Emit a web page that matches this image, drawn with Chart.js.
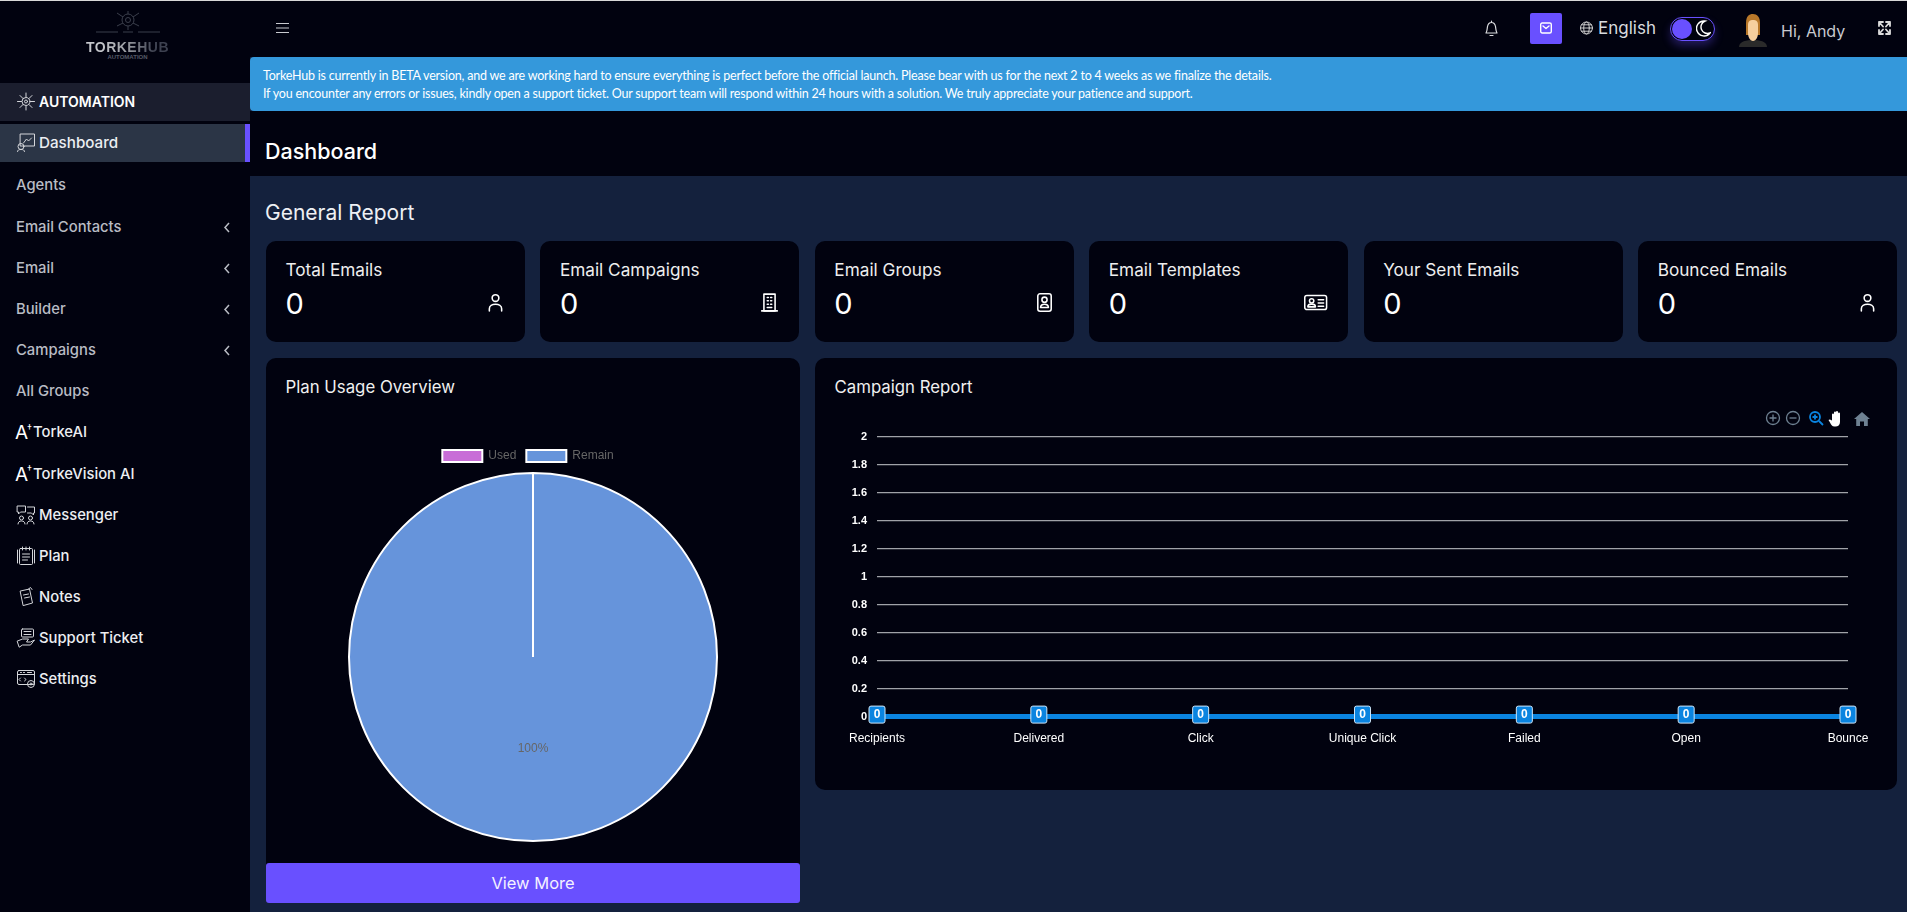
<!DOCTYPE html>
<html lang="en">
<head>
<meta charset="utf-8">
<title>TorkeHub Dashboard</title>
<script src="https://cdn.jsdelivr.net/npm/chart.js@4"></script>
<style>
  * { box-sizing: border-box; }
  html, body { margin: 0; width: 1907px; height: 912px; overflow: hidden; background: #14213d; color: #fff; font-family: Inter, "Noto Sans", sans-serif; }
  .abs { position: absolute; }
  #topline { left: 0; top: 0; width: 1907px; height: 1px; background: #d8d8d8; z-index: 5; }
  #sidebar { left: 0; top: 0; width: 250px; height: 912px; background: #01020f; }
  #header { left: 250px; top: 0; width: 1657px; height: 57px; background: #01020f; }
  #banner { left: 250px; top: 57px; width: 1657px; height: 54px; background: #3498db; border-radius: 4px 0 0 4px; padding: 10px 13px; font: 12.5px/18px Lato, "Open Sans", sans-serif; letter-spacing: -.2px; color: #fff; }
  #titlebar { left: 250px; top: 111px; width: 1657px; height: 65px; background: #01020f; }
  #titlebar div { position: absolute; left: 15px; top: 26px; font-size: 21.500px; line-height: 28px; font-weight: 500; }
  #genReport { left: 265px; top: 198px; font-size: 21px; line-height: 30px; font-weight: 400; color: #eef0f4; }
  #stats { left: 266px; top: 241px; width: 1631px; height: 101px; display: grid; grid-template-columns: repeat(6, 1fr); column-gap: 15.6px; }
  .stat { position: relative; background: #01020f; border-radius: 10px; }
  .stat .t { position: absolute; left: 19.5px; top: 18px; font-size: 17.200px; line-height: 22px; color: #eee; }
  .stat .v { position: absolute; left: 19.5px; top: 45px; font-size: 29px; line-height: 36px; }
  .stat svg { position: absolute; right: 20px; top: 52px; }
  .panel { background: #01020f; border-radius: 10px; }
  .panel h3 { position: absolute; left: 19.5px; top: 18px; margin: 0; font-size: 16.800px; line-height: 22px; font-weight: 400; color: #f0f0f0; }
  #planCard { left: 266px; top: 358px; width: 534px; height: 510px; border-radius: 10px 10px 0 0; }
  #campCard { left: 815px; top: 358px; width: 1082px; height: 432px; }
  #viewMore { left: 266px; top: 863px; width: 534px; height: 40px; background: #6950ff; border-radius: 3px; text-align: center; font-size: 16.5px; line-height: 40px; color: #f3f1ff; }
  #planWrap { left: 266px; top: 440px; width: 534px; height: 402px; }
  #campWrap { left: 815px; top: 420px; width: 1082px; height: 360px; }
  .side { position: absolute; left: 0; width: 250px; height: 41px; font-size: 14.8px; line-height: 41px; font-weight: 500; color: #b9bcc4; }
  .side span { position: absolute; left: 16px; }
  .side.icon span { left: 39px; color: #eceef2; }
  .side.ai span { left: 33px; color: #eceef2; }
  .side svg { position: absolute; left: 16px; top: 10px; }
  .side .chev { position: absolute; left: 223px; top: 15px; }
  #logo { left: 60px; top: 10px; width: 135px; text-align: center; }
  #logoT { position: absolute; left: 0; top: 27px; width: 135px; font: 700 14px/20px "Liberation Sans", sans-serif; letter-spacing: .5px; background: linear-gradient(90deg, #c5c7cc 30%, #9a9ca2 50%, #3d4150 70%); -webkit-background-clip: text; background-clip: text; color: transparent; }
  #logoS { position: absolute; left: 0; top: 43px; width: 135px; font: 700 6px/9px "Liberation Sans", sans-serif; color: #555a66; }
  svg.line { fill: none; stroke: #fff; stroke-width: 1.4; stroke-linecap: round; stroke-linejoin: round; }
  .side svg.line { stroke: #d4d6da; stroke-width: 1; }
</style>
</head>
<body>
<div class="abs" id="topline"></div>
<div class="abs" id="sidebar"></div>
<div class="abs" id="header"></div>
<div class="abs" id="banner"></div>
<div class="abs" id="titlebar"><div>Dashboard</div></div>
<div class="abs" id="genReport">General Report</div>
<div class="abs" id="stats"></div>
<div class="abs panel" id="planCard"><h3>Plan Usage Overview</h3></div>
<div class="abs panel" id="campCard"><h3>Campaign Report</h3></div>
<div class="abs" id="planWrap"><canvas id="planChart"></canvas></div>
<div class="abs" id="campWrap"><canvas id="campChart"></canvas></div>
<div class="abs" id="viewMore">View More</div>

<!-- top bar -->
<svg class="abs line" style="left:276px;top:22px;stroke:#c8cad0;stroke-width:1.200" width="13" height="12" viewBox="0 0 13 12"><path d="M0 1.5h13M0 6h13M0 10.500h13"/></svg>
<svg class="abs line" style="left:1484px;top:20px;stroke:#dcdde0;stroke-width:1.200" width="15" height="17" viewBox="0 0 15 17"><path d="M2 13c1.300-2 1-4 1.500-6.500S5.500 2.500 7.500 2.500s3.500 1.500 4 4 .2 4.500 1.500 6.500zM6 15.500h3M7.500 1v1.500"/></svg>
<div class="abs" style="left:1530px;top:13px;width:32px;height:31px;background:#6950ff;border-radius:2px"></div>
<svg class="abs line" style="left:1540px;top:22px" width="12" height="12" viewBox="0 0 12 12"><rect x=".7" y="1" width="10.600" height="10" rx="1.500"/><path d="M3 4l3 2.500L9 4"/></svg>
<svg class="abs line" style="left:1580px;top:21px;stroke:#ccc;stroke-width:1" width="13" height="14" viewBox="0 0 13 14"><circle cx="6.500" cy="7" r="6"/><ellipse cx="6.500" cy="7" rx="2.800" ry="6"/><path d="M.5 7h12M1.500 3.800h10M1.500 10.200h10"/></svg>
<div class="abs" style="left:1598px;top:16px;font-size:17px;line-height:24px;color:#d8dade">English</div>
<div class="abs" style="left:1670px;top:17px;width:45px;height:24px;border-radius:12px;border:1.500px solid #6950ff;box-shadow:0 5px 9px rgba(105,80,255,.3);background:#01020f"></div>
<div class="abs" style="left:1672px;top:19px;width:20px;height:20px;border-radius:50%;background:#6950ff"></div>
<svg class="abs" style="left:1696px;top:20px" width="15" height="17" viewBox="0 0 15 17"><path d="M9 1a7.500 7.500 0 1 0 5 12A6.500 6.500 0 0 1 9 1z" fill="none" stroke="#fff" stroke-width="1.400"/></svg>
<svg class="abs" style="left:1735px;top:13px" width="36" height="34" viewBox="0 0 36 34"><path d="M4 34c0-6 8-7 14-7s14 1 14 7z" fill="#2a2a2a"/><path d="M11 10C11 3 14 1 18 1s7 3 7 9v12h-14z" fill="#b8782a"/><path d="M13 12c0-4 2-5 5-5s5 1 5 5v8c0 4-2 8-5 8s-5-4-5-8z" fill="#f6cf9e"/></svg>
<div class="abs" style="left:1781px;top:19px;font-size:16px;line-height:24px;color:#c8cad0">Hi, Andy</div>
<svg class="abs line" style="left:1878px;top:21px;stroke:#dcdcdc;stroke-width:1.800" width="13" height="14" viewBox="0 0 13 14"><path d="M1 1l4 4.500M12 1L8 5.500M1 13l4-4.500M12 13L8 8.500M1 5V1h4M8 1h4v4M1 9v4h4M8 13h4V9"/></svg>

<!-- apex style toolbar -->
<svg class="abs" style="left:1765px;top:410px" width="108" height="18" viewBox="0 0 108 18" fill="none">
  <g stroke="#6e8192" stroke-width="1.300"><circle cx="8" cy="8" r="6.500"/><path d="M8 4.500v7M4.500 8h7"/><circle cx="28" cy="8" r="6.500"/><path d="M24.500 8h7"/></g>
  <g stroke="#0a84e0" stroke-width="1.800"><circle cx="50" cy="7" r="5"/><path d="M50 4.500v5M47.500 7h5M54 11l4 4"/></g>
  <path d="M67 10V4.500a1 1 0 0 1 2 0V8V2.500a1 1 0 0 1 2 0V8V2a1 1 0 0 1 2 0v6V3.500a1 1 0 0 1 2 0V12c0 3-2 4.500-4.500 4.500h-1c-2.500 0-3.500-2-4.500-4l-1.500-2.500c1-1 2-.5 3 .5z" fill="#fff"/>
  <path d="M97 2l8 7h-2.200v7h-3.800v-4.500h-4V16h-3.800V9H89z" fill="#6e8192"/>
</svg>

<!-- logo -->
<div class="abs" id="logo">
  <svg width="66" height="26" viewBox="0 0 66 26" fill="none" stroke="#3b3f4c" stroke-width="1"><circle cx="33" cy="10" r="6"/><circle cx="33" cy="10" r="2.500"/><path d="M33 1v3M33 16v4M22 3l6 4M44 3l-6 4M22 16l6-3M44 16l-6-3M1 22h22M28 22h10M43 22h22"/></svg>
  <div id="logoT">TORKEHUB</div>
  <div id="logoS">AUTOMATION</div>
</div>

<script>
// chart values
const planLabels = ["Used", "Remain"];
const planValues = [0, 100];
const planColors = ["#c86dd7", "#6694db"];

const campaignCategories = ["Recipients", "Delivered", "Click", "Unique Click", "Failed", "Open", "Bounce"];
const campaignValues = [0, 0, 0, 0, 0, 0, 0];
const campaignTicks = [0, 0.2, 0.4, 0.6, 0.8, 1, 1.2, 1.4, 1.6, 1.8, 2];

// page text
const bannerLines = [
  "TorkeHub is currently in BETA version, and we are working hard to ensure everything is perfect before the official launch. Please bear with us for the next 2 to 4 weeks as we finalize the details.",
  "If you encounter any errors or issues, kindly open a support ticket. Our support team will respond within 24 hours with a solution. We truly appreciate your patience and support.",
];
const statTitles = ["Total Emails", "Email Campaigns", "Email Groups", "Email Templates", "Your Sent Emails", "Bounced Emails"];
const statValues = [0, 0, 0, 0, 0, 0];
const statIcons = ["person", "building", "badge", "idcard", "", "person"];
const menuLabels = ["Agents", "Email Contacts", "Email", "Builder", "Campaigns", "All Groups", "TorkeAI", "TorkeVision AI", "Messenger", "Plan", "Notes", "Support Ticket", "Settings"];
const menuKinds = ["", "sub", "sub", "sub", "sub", "", "ai", "ai", "icon", "icon", "icon", "icon", "icon"];
const menuIcons = ["", "", "", "", "", "", "", "", "chat", "plan", "note", "ticket", "gear"];

const iconPaths = {
  person: '<circle cx="8.500" cy="4.500" r="3"/><path d="M3 16v-2c0-2.500 2.500-4 5.500-4s5.500 1.500 5.500 4v2"/>',
  building: '<rect x="3.500" y="1" width="10" height="15"/><path d="M1.500 16h14M6.500 4h1M9.500 4h1M6.500 7h1M9.500 7h1M6.500 10h1M9.500 10h1M6.500 13h4"/>',
  badge: '<rect x="2.500" y="0.700" width="12" height="15.600" rx="2"/><circle cx="8.500" cy="6" r="2.300"/><path d="M5 13c0-2 1.500-3 3.500-3s3.500 1 3.500 3z"/>',
  idcard: '<rect x="0.700" y="2" width="20" height="13" rx="2"/><circle cx="7" cy="7" r="2"/><path d="M3.500 12.500c0-1.500 1.500-2.500 3.500-2.500s3.500 1 3.500 2.500zM13 6h5M13 9h5M13 12h5"/>',
  chip: '<circle cx="9.500" cy="9.500" r="4"/><circle cx="9.500" cy="9.500" r="1.500"/><path d="M9.500 1v4M9.500 14v4M1 9.500h4M14 9.500h4M3.500 3.500l3 3M15.500 3.500l-3 3M3.500 15.500l3-3M15.500 15.500l-3-3"/>',
  board: '<rect x="4" y="1" width="14" height="12"/><path d="M7 10l3-4 2 2 3-3"/><circle cx="4.500" cy="13.500" r="3"/><path d="M1 18.500c0-1.500 1.500-2 3.500-2s3.500 .5 3.500 2"/>',
  chat: '<path d="M1 1h8v6H4l-2 2v-2H1zM11 2h7v6h-1v2l-2-2h-4"/><circle cx="5" cy="13" r="2"/><circle cx="14" cy="13" r="2"/><path d="M1.500 19c0-2 1.500-3 3.500-3s3.500 1 3.500 3M10.500 19c0-2 1.500-3 3.500-3s3.500 1 3.500 3"/>',
  plan: '<rect x="3" y="2.500" width="13" height="16" rx="1"/><path d="M1 4v13M18 4v13M6 1v3M9.500 1v3M13 1v3M6 8h7M6 11h7M6 14h5"/>',
  note: '<path d="M4 4l9-2 3 14-9 2.500z"/><path d="M7 8l5-1M8 11l5-1M12 2l2-1.500 1.500 2"/>',
  ticket: '<rect x="5" y="1" width="12" height="8" rx="1"/><path d="M7.500 3.500h7M7.500 6.500h7M1 13l5-2h6l-2 3h4l4-2-4 5H6l-3 2z"/>',
  gear: '<rect x="1" y="1.500" width="17" height="14" rx="1.500"/><path d="M1 5.500h17M4 3.500h1M7 3.500h1M11 3.500h4M4 9l-1.500 1.500L4 12M8 9l1.500 1.500L8 12"/><circle cx="14.500" cy="15" r="3.500"/><circle cx="14.500" cy="15" r="1"/>',
};

const lineIcon = (name, size) => {
  const width = name === "idcard" ? 22 : 17;
  const height = name === "idcard" ? 17 : 17;
  const viewSize = size === 20 && name !== "idcard" ? "0 0 19 20" : `0 0 ${width} ${height}`;
  return `<svg class="line" width="${name === "idcard" ? 24 : size}" height="${size}" viewBox="${viewSize}">${iconPaths[name]}</svg>`;
};

document.getElementById("banner").innerHTML = bannerLines.join("<br>");

document.getElementById("stats").innerHTML = statTitles
  .map(
    (title, i) => `
    <div class="stat">
      <div class="t">${title}</div>
      <div class="v">${statValues[i]}</div>
      ${statIcons[i] ? lineIcon(statIcons[i], 19) : ""}
    </div>`
  )
  .join("");

const sidebarEl = document.getElementById("sidebar");
const addSideRow = (html) => sidebarEl.insertAdjacentHTML("beforeend", html);

addSideRow(`<div class="side icon" style="top:83px;height:38px;line-height:38px;background:#1b1e2e;color:#fff">${lineIcon("chip", 20).replace("<svg", '<svg style="top:9px"')}<span style="color:#fff;font-weight:600;font-size:14px">AUTOMATION</span></div>`);
addSideRow(`<div class="side icon" style="top:124px;height:38px;line-height:38px;background:#2b3546">${lineIcon("board", 20).replace("<svg", '<svg style="top:9px"')}<span style="font-size:15.200px">Dashboard</span><div style="position:absolute;right:0;top:0;width:5px;height:38px;background:#6950ff"></div></div>`);

menuLabels.forEach((label, i) => {
  const kind = menuKinds[i];
  const top = 165.4 + i * 41.17;
  const icon = kind === "icon" ? lineIcon(menuIcons[i], 20) : "";
  const mark = kind === "ai" ? '<span style="left:15px;font-size:19px;font-weight:400;color:#fff">A<sup style="font-size:10px;line-height:0;margin-left:-1px">†</sup></span>' : "";
  const chev = kind === "sub" ? '<svg class="chev" width="8" height="11" viewBox="0 0 8 11" fill="none" stroke="#b9bcc4" stroke-width="1.500"><path d="M6 1L2 5.500 6 10"/></svg>' : "";
  addSideRow(`<div class="side ${kind}" style="top:${top}px">${icon}${mark}<span>${label}</span>${chev}</div>`);
});

// draws the percent text at the middle of each visible slice
const percentLabels = {
  id: "percentLabels",
  afterDatasetsDraw(chart) {
    const { ctx } = chart;
    const dataset = chart.data.datasets[0];
    const total = dataset.data.reduce((sum, value) => sum + value, 0);
    chart.getDatasetMeta(0).data.forEach((arc, i) => {
      const value = dataset.data[i];
      if (!value) return;
      const pos = arc.tooltipPosition();
      ctx.save();
      ctx.font = "12px 'Liberation Sans', Arial, sans-serif";
      ctx.fillStyle = "#666";
      ctx.textAlign = "center";
      ctx.textBaseline = "middle";
      ctx.fillText(`${Math.round((value / total) * 100)}%`, pos.x, pos.y);
      ctx.restore();
    });
  },
};

// the legend sits a little left of the pie centre in the original
const nudgeLegend = {
  id: "nudgeLegend",
  afterLayout(chart) {
    chart.legend.left -= 5;
    chart.legend.right -= 5;
  },
};

// apex style value badges sitting on the points
const valueBadges = {
  id: "valueBadges",
  afterDatasetsDraw(chart) {
    const { ctx } = chart;
    const values = chart.data.datasets[0].data;
    chart.getDatasetMeta(0).data.forEach((point, i) => {
      ctx.save();
      ctx.beginPath();
      ctx.roundRect(point.x - 8, point.y - 10.5, 16, 17, 2);
      ctx.fillStyle = "#0a84e0";
      ctx.fill();
      ctx.strokeStyle = "#cfe6f8";
      ctx.lineWidth = 1;
      ctx.stroke();
      ctx.font = "bold 12px 'Liberation Sans', Arial, sans-serif";
      ctx.fillStyle = "#fff";
      ctx.textAlign = "center";
      ctx.textBaseline = "middle";
      ctx.fillText(values[i], point.x, point.y - 2);
      ctx.restore();
    });
  },
};

new Chart(document.getElementById("planChart"), {
  type: "pie",
  data: {
    labels: planLabels,
    datasets: [
      {
        data: planValues,
        backgroundColor: planColors,
        borderColor: "#ffffff",
        borderWidth: 2,
      },
    ],
  },
  options: {
    responsive: true,
    maintainAspectRatio: false,
    animation: false,
    plugins: {
      legend: {
        position: "top",
        labels: { color: "#666", font: { family: "'Liberation Sans', Arial, sans-serif", size: 12 } },
      },
      tooltip: { enabled: false },
    },
  },
  plugins: [percentLabels, nudgeLegend],
});

new Chart(document.getElementById("campChart"), {
  type: "line",
  data: {
    labels: campaignCategories,
    datasets: [
      {
        data: campaignValues,
        borderColor: "#0a84e0",
        borderWidth: 5,
        pointRadius: 0,
        clip: false,
        tension: 0,
      },
    ],
  },
  options: {
    responsive: true,
    maintainAspectRatio: false,
    animation: false,
    layout: { padding: { left: 20, right: 49, top: 13.5, bottom: 28 } },
    plugins: { legend: { display: false }, tooltip: { enabled: false } },
    scales: {
      x: {
        offset: false,
        grid: { display: false },
        border: { display: false },
        ticks: { color: "#fff", maxRotation: 0, autoSkip: false, padding: 6.5, font: { family: "'Liberation Sans', Arial, sans-serif", size: 12 } },
      },
      y: {
        min: 0,
        max: 2,
        grid: { color: "#a0a2a8", lineWidth: 1.2, drawTicks: false },
        border: { display: false },
        afterBuildTicks: (axis) => {
          axis.ticks = campaignTicks.map((value) => ({ value }));
        },
        afterFit: (axis) => {
          axis.width = 42;
        },
        ticks: { color: "#fff", padding: 10, font: { family: "'Liberation Sans', Arial, sans-serif", size: 11, weight: "bold" }, callback: (value) => String(value) },
      },
    },
  },
  plugins: [valueBadges],
});
</script>
</body>
</html>
